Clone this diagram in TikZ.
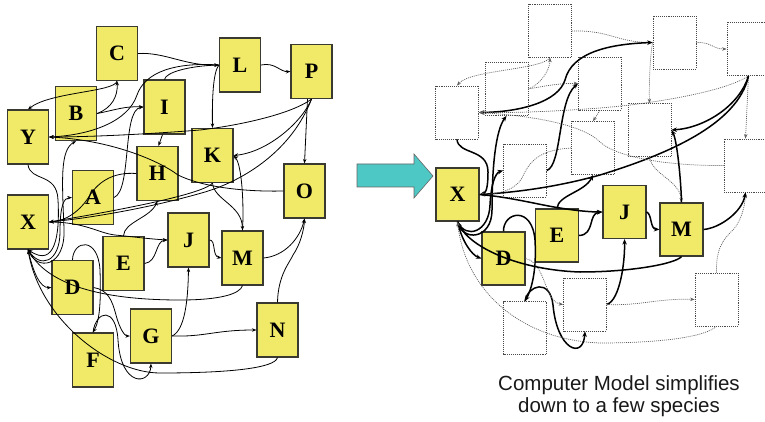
\documentclass[tikz,border=0pt]{standalone}
\usepackage{fontspec}
\usetikzlibrary{arrows.meta}
\newfontfamily\capfont{Liberation Sans}
\newfontfamily\letfont{Liberation Serif}
\definecolor{boxyellow}{HTML}{F0EA68}
\definecolor{boxline}{HTML}{3A3A30}
\definecolor{arrowcyan}{HTML}{4EC8C4}
\definecolor{dotgray}{HTML}{4A4A4A}
\definecolor{edgegray}{HTML}{606060}
\begin{document}
\begin{tikzpicture}[x=1pt,y=-1pt,
 lbox/.style={draw=boxline,line width=1.2pt,fill=boxyellow,minimum width=41pt,minimum height=54pt,inner sep=0pt,font=\letfont\bfseries\fontsize{22}{22}\selectfont},
 rbox/.style={lbox,minimum width=43pt,minimum height=53pt},
 rdot/.style={draw=dotgray,line width=0.75pt,dash pattern=on 1pt off 0.9pt,minimum width=43pt,minimum height=53pt,inner sep=0pt},
 ledge/.style={draw=black,line width=0.8pt,-{Stealth[length=4.5pt,width=3.5pt]}},
 bedge/.style={draw=black,line width=1.5pt,-{Stealth[length=5.5pt,width=4.5pt]}},
 dedge/.style={draw=edgegray,line width=0.7pt,dash pattern=on 1pt off 1pt,-{Stealth[length=4.5pt,width=3.5pt]}},
]
\useasboundingbox (0,0) rectangle (765,422);
\clip (0,0) rectangle (765,422);
% ---------- left network ----------
\node[lbox] (C) at (117,53.5) {C};
\node[lbox] (B) at (76,113.5) {B};
\node[lbox] (Y) at (28,137) {Y};
\node[lbox] (I) at (164.5,107) {I};
\node[lbox] (H) at (157.5,173.5) {H};
\node[lbox] (A) at (93,197.5) {A};
\node[lbox] (K) at (212.5,155.5) {K};
\node[lbox] (L) at (240,65) {L};
\node[lbox] (P) at (311.5,71.5) {P};
\node[lbox] (O) at (304.5,191) {O};
\node[lbox] (X) at (28,222) {X};
\node[lbox] (E) at (123.5,263.5) {E};
\node[lbox] (D) at (72.5,287.5) {D};
\node[lbox] (J) at (188.5,240) {J};
\node[lbox] (G) at (151,336) {G};
\node[lbox] (F) at (93,360) {F};
\node[lbox] (M) at (242.5,258) {M};
\node[lbox] (N) at (277.5,330) {N};
% ---------- right network ----------
\node[rdot] (rC) at (550,31) {};
\node[rdot] (rB) at (506.5,89) {};
\node[rdot] (rY) at (457,112.5) {};
\node[rdot] (rI) at (600,83.5) {};
\node[rdot] (rL) at (674.5,42.5) {};
\node[rdot] (rP) at (748.5,49) {};
\node[rdot] (rH) at (593,148) {};
\node[rdot] (rK) at (649.5,130) {};
\node[rdot] (rO) at (745.5,165.5) {};
\node[rdot] (rA) at (525,170.5) {};
\node[rdot] (rF) at (525,328) {};
\node[rdot] (rG) at (585,304.5) {};
\node[rdot] (rN) at (716.5,299.5) {};
\node[rbox] (rX) at (457.5,194.5) {X};
\node[rbox] (rE) at (557,235.5) {E};
\node[rbox] (rJ) at (624.5,212) {J};
\node[rbox] (rM) at (681.5,229.5) {M};
\node[rbox] (rD) at (503.5,258.5) {D};
% ---------- left edges ----------
\draw[ledge] (C.east) .. controls (165,52) and (185,66) .. (L.west);
\draw[ledge] (L.west) .. controls (213,72) and (212,100) .. (K.north);
\draw[ledge] (L.west) .. controls (175,62) and (145,72) .. (137,95) .. controls (128,122) and (90,135) .. (Y.east);
\draw[ledge] (I.north) .. controls (166,72) and (190,66) .. (L.west);
\draw[ledge] (B.east) .. controls (112,108) and (118,96) .. (C.south);
\draw[ledge] (C.south) .. controls (115,92) and (50,92) .. (Y.north);
\draw[ledge] (B.east) .. controls (115,110) and (125,106) .. (I.west);
\draw[ledge] (A.east) .. controls (132,190) and (122,110) .. (I.west);
\draw[ledge] (P.south) .. controls (290,115) and (235,126) .. (200,130) .. controls (150,134) and (90,137) .. (Y.east);
\draw[ledge] (O.west) .. controls (240,192) and (200,186) .. (178,175) .. controls (158,160) and (110,140) .. (Y.east);
\draw[ledge] ([xshift=-2pt]I.south) -- ([xshift=1pt]H.north);
\draw[ledge] (Y.south) .. controls (30,182) and (57,172) .. (58,200) .. controls (60,235) and (55,268) .. (X.south);
\draw[ledge] (X.south) .. controls (36,272) and (66,268) .. (64,228) .. controls (62,180) and (60,150) .. (B.south);
\draw[ledge] (X.south) .. controls (40,270) and (60,262) .. (60,232) .. controls (60,205) and (64,198) .. (A.west);
\draw[ledge] (H.west) .. controls (115,172) and (100,180) .. (90,195) .. controls (80,212) and (65,221) .. (X.east);
\draw[ledge] (K.south) .. controls (205,192) and (150,205) .. (X.east);
\draw[ledge] (P.south) .. controls (292,150) and (245,180) .. (205,192) .. controls (150,208) and (90,218) .. (X.east);
\draw[ledge] (X.east) .. controls (85,222) and (98,233) .. (115,235) .. controls (135,237) and (150,239) .. (J.west);
\draw[ledge] (E.north) .. controls (124,222) and (150,218) .. (H.south);
\draw[ledge] (E.east) .. controls (158,262) and (155,241) .. (J.west);
\draw[ledge] (D.north) .. controls (73,240) and (98,236) .. (100,270) .. controls (101,300) and (100,320) .. (F.north);
\draw[ledge] (D.east) .. controls (108,290) and (112,300) .. (116,315) .. controls (120,330) and (125,336) .. (G.west);
\draw[ledge] (F.north) .. controls (96,310) and (116,306) .. (118,340) .. controls (121,388) and (150,385) .. (G.south);
\draw[ledge] (X.south) .. controls (33,272) and (40,288) .. (D.west);
\draw[ledge] (M.south) .. controls (240,294) and (220,300) .. (180,300) .. controls (110,300) and (50,288) .. (X.south);
\draw[ledge] (N.south) .. controls (275,368) and (230,373) .. (160,373) .. controls (110,373) and (40,320) .. (X.south);
\draw[ledge] (G.east) .. controls (185,330) and (188,300) .. (J.south);
\draw[ledge] (G.east) .. controls (205,337) and (215,330) .. (N.west);
\draw[ledge] (N.north) .. controls (278,275) and (290,262) .. (293,255) .. controls (300,245) and (304,230) .. (O.south);
\draw[ledge] (M.east) .. controls (285,256) and (300,238) .. (O.south);
\draw[ledge] (J.east) .. controls (216,240) and (212,256) .. (M.west);
\draw[ledge] (M.north) .. controls (244,205) and (242,165) .. (K.east);
\draw[ledge] (K.south) .. controls (214,200) and (242,205) .. (M.north);
\draw[ledge] (P.south) .. controls (302,122) and (268,152) .. (K.east);
\draw[ledge] ([xshift=-4pt]P.south) -- (O.north);
\draw[ledge] (L.east) .. controls (275,62) and (280,72) .. (P.west);
% ---------- big arrow ----------
\draw[fill=arrowcyan,draw=black!60,line width=0.6pt] (357,164) -- (414,164) -- (414,154) -- (433,176) -- (414,198) -- (414,187) -- (357,187) -- cycle;
% ---------- right edges ----------
\draw[dedge] (rC.east) .. controls (610,30) and (615,42) .. (rL.west);
\draw[bedge,{Stealth[length=5.5pt,width=4.5pt]}-{Stealth[length=5.5pt,width=4.5pt]}] (rL.west) .. controls (610,44) and (572,52) .. (565,80) .. controls (558,102) and (520,112) .. (rY.east);
\draw[dedge] (rL.west) .. controls (650,55) and (649,85) .. (rK.north);
\draw[dedge] (rL.east) .. controls (712,42) and (712,49) .. (rP.west);
\draw[dedge] (rP.south) .. controls (725,92) and (650,104) .. (600,108) .. controls (560,111) and (520,113) .. (rY.east);
\draw[dedge] (rP.south) -- (rO.north);
\draw[bedge] (rP.south) .. controls (740,105) and (705,128) .. (rK.east);
\draw[bedge] (rP.south) .. controls (738,125) and (665,155) .. (600,175) .. controls (550,189) and (505,193) .. (rX.east);
\draw[dedge] (rO.west) .. controls (680,166) and (620,160) .. (600,142) .. controls (580,122) and (520,115) .. (rY.east);
\draw[dedge] (rI.south) -- (rH.north);
\draw[bedge] (rA.east) .. controls (562,165) and (558,100) .. (rI.west);
\draw[dedge] (rB.east) .. controls (540,85) and (550,70) .. (rC.south);
\draw[dedge] (rC.south) .. controls (540,70) and (470,70) .. (rY.north);
\draw[dedge] (rB.east) .. controls (545,86) and (560,83) .. (rI.west);
\draw[bedge] (rY.south) .. controls (458,155) and (488,148) .. (488,172) .. controls (488,188) and (486,193) .. (rX.east);
\draw[bedge] (rX.south) .. controls (462,242) and (492,240) .. (492,210) .. controls (492,165) and (496,130) .. (rB.south);
\draw[bedge] (rX.south) .. controls (466,240) and (489,232) .. (490,205) .. controls (491,185) and (495,173) .. (rA.west);
\draw[dedge] (rH.west) .. controls (540,150) and (530,160) .. (522,178) .. controls (515,190) and (500,194) .. (rX.east);
\draw[dedge] (rK.south) .. controls (652,175) and (680,180) .. (rM.north);
\draw[bedge] (rM.north) .. controls (681,180) and (677,140) .. (rK.east);
\draw[bedge] (rX.east) .. controls (510,197) and (540,205) .. (560,208) .. controls (578,211) and (592,212) .. (rJ.west);
\draw[bedge] (rE.north) .. controls (558,195) and (585,192) .. (rH.south);
\draw[bedge] (rE.east) .. controls (595,235) and (588,213) .. (rJ.west);
\draw[bedge] (rD.north) .. controls (503,212) and (532,205) .. (535,240) .. controls (537,275) and (530,292) .. (rF.north);
\draw[bedge] (rF.north) .. controls (528,285) and (550,278) .. (553,305) .. controls (557,350) and (583,360) .. (rG.south);
\draw[dedge] (rD.east) .. controls (545,262) and (545,302) .. (rG.west);
\draw[bedge] (rX.south) .. controls (462,242) and (472,255) .. (rD.west);
\draw[bedge] (rM.south) .. controls (675,264) and (630,272) .. (580,272) .. controls (520,270) and (470,248) .. (rX.south);
\draw[dedge] (rN.south) .. controls (705,337) and (660,343) .. (600,343) .. controls (520,340) and (465,290) .. (rX.south);
\draw[bedge] (rG.east) .. controls (620,300) and (625,262) .. (rJ.south);
\draw[dedge] (rG.east) .. controls (640,306) and (660,298) .. (rN.west);
\draw[dedge] (rN.north) .. controls (716,250) and (722,240) .. (733,230) .. controls (742,220) and (745,205) .. (rO.south);
\draw[bedge] (rM.east) .. controls (720,228) and (742,212) .. (rO.south);
\draw[bedge] (rJ.east) .. controls (652,214) and (650,229) .. (rM.west);
% ---------- caption ----------
\node[font=\capfont\fontsize{20.5}{22.5}\selectfont,align=center,text=black!90] (cap) at (619,396) {Computer Model simplifies\\down to a few species};
\end{tikzpicture}
\end{document}
